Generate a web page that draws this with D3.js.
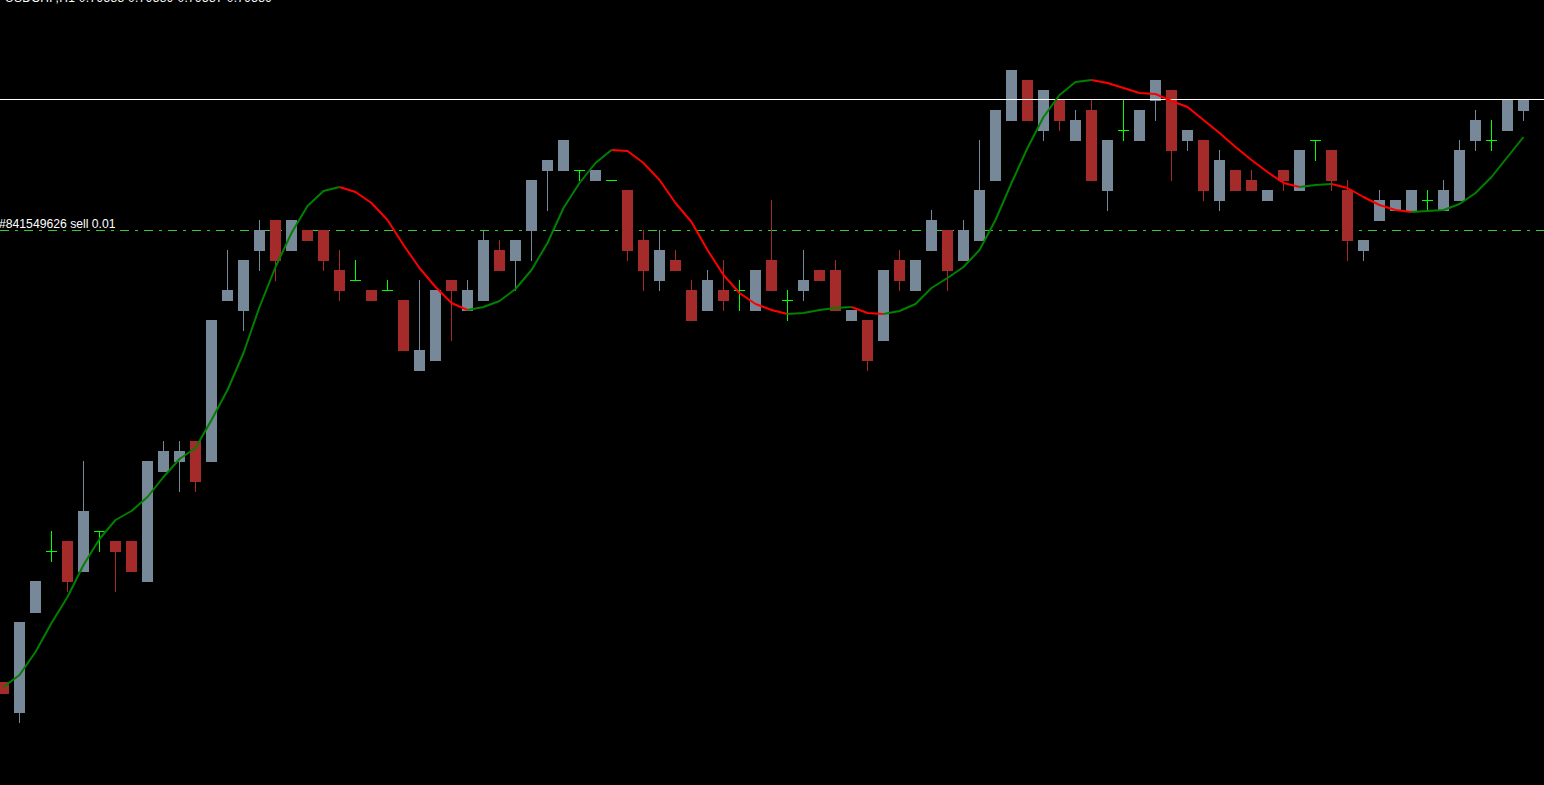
<!DOCTYPE html>
<html><head><meta charset="utf-8">
<script src="https://cdn.jsdelivr.net/npm/d3@7"></script>
<style>html,body{margin:0;padding:0;background:#000;overflow:hidden}</style>
</head><body>
<svg id="chart" width="1544" height="785"></svg>
<script>
// ---- data ----
const symbolLabel = "USDCHF,H1  0.79588 0.79589 0.79587 0.79589";
const orderLabel = "#841549626 sell 0.01";
const bidPrice = 0.79589;
const orderPrice = 0.79458;

const openP = [0.79006,0.78976,0.79076,0.79137,0.79147,0.79117,0.79157,0.79147,0.79147,0.79107,
0.79217,0.79227,0.79247,0.79227,0.79388,0.79378,0.79438,0.79468,0.79438,0.79458,
0.79458,0.79418,0.79408,0.79398,0.79398,0.79388,0.79318,0.79328,0.79408,0.79378,
0.79388,0.79438,0.79428,0.79458,0.79518,0.79518,0.79518,0.79508,0.79508,0.79498,
0.79448,0.79408,0.79428,0.79398,0.79378,0.79398,0.79398,0.79378,0.79428,0.79388,
0.79398,0.79418,0.79418,0.79368,0.79368,0.79348,0.79428,0.79398,0.79438,0.79458,
0.79428,0.79448,0.79508,0.79568,0.79608,0.79558,0.79588,0.79548,0.79578,0.79498,
0.79558,0.79548,0.79588,0.79598,0.79548,0.79548,0.79488,0.79518,0.79508,0.79488,
0.79518,0.79498,0.79548,0.79538,0.79498,0.79438,0.79468,0.79478,0.79478,0.79488,
0.79478,0.79488,0.79548,0.79548,0.79558,0.79578];

const highP = [0.79006,0.79066,0.79107,0.79157,0.79147,0.79227,0.79157,0.79147,0.79147,0.79227,
0.79247,0.79247,0.79247,0.79368,0.79438,0.79428,0.79468,0.79468,0.79468,0.79458,
0.79458,0.79438,0.79428,0.79398,0.79408,0.79388,0.79408,0.79398,0.79408,0.79408,
0.79458,0.79448,0.79448,0.79508,0.79528,0.79548,0.79518,0.79518,0.79508,0.79498,
0.79458,0.79458,0.79438,0.79408,0.79418,0.79428,0.79408,0.79418,0.79488,0.79398,
0.79438,0.79418,0.79428,0.79378,0.79368,0.79418,0.79438,0.79428,0.79478,0.79458,
0.79468,0.79548,0.79578,0.79618,0.79608,0.79598,0.79588,0.79578,0.79588,0.79548,
0.79588,0.79578,0.79608,0.79598,0.79558,0.79548,0.79538,0.79518,0.79518,0.79498,
0.79518,0.79538,0.79548,0.79538,0.79508,0.79448,0.79498,0.79488,0.79498,0.79498,
0.79508,0.79548,0.79578,0.79568,0.79588,0.79588];

const lowP = [0.78995,0.78966,0.79076,0.79127,0.79097,0.79117,0.79137,0.79097,0.79117,0.79107,
0.79217,0.79197,0.79197,0.79227,0.79388,0.79358,0.79418,0.79408,0.79438,0.79448,
0.79418,0.79388,0.79408,0.79388,0.79398,0.79338,0.79318,0.79328,0.79348,0.79378,
0.79388,0.79418,0.79398,0.79428,0.79478,0.79518,0.79508,0.79508,0.79508,0.79428,
0.79398,0.79398,0.79418,0.79368,0.79378,0.79378,0.79378,0.79378,0.79398,0.79368,
0.79388,0.79408,0.79378,0.79368,0.79318,0.79348,0.79398,0.79398,0.79438,0.79398,
0.79428,0.79448,0.79508,0.79568,0.79568,0.79548,0.79558,0.79548,0.79508,0.79478,
0.79548,0.79548,0.79568,0.79508,0.79538,0.79488,0.79478,0.79498,0.79498,0.79488,
0.79498,0.79498,0.79528,0.79498,0.79428,0.79428,0.79468,0.79478,0.79478,0.79478,
0.79478,0.79488,0.79538,0.79538,0.79558,0.79568];

const closeP = [0.78995,0.79066,0.79107,0.79137,0.79107,0.79177,0.79157,0.79137,0.79117,0.79227,
0.79237,0.79237,0.79207,0.79368,0.79398,0.79428,0.79458,0.79428,0.79468,0.79448,
0.79428,0.79398,0.79408,0.79388,0.79398,0.79338,0.79338,0.79398,0.79398,0.79398,
0.79448,0.79418,0.79448,0.79508,0.79528,0.79548,0.79518,0.79518,0.79508,0.79438,
0.79418,0.79438,0.79418,0.79368,0.79408,0.79388,0.79398,0.79418,0.79398,0.79388,
0.79408,0.79408,0.79378,0.79378,0.79328,0.79418,0.79408,0.79428,0.79468,0.79418,
0.79458,0.79498,0.79578,0.79618,0.79568,0.79598,0.79568,0.79568,0.79508,0.79548,
0.79558,0.79578,0.79608,0.79538,0.79558,0.79498,0.79528,0.79498,0.79498,0.79498,
0.79508,0.79538,0.79548,0.79508,0.79448,0.79448,0.79488,0.79488,0.79498,0.79488,
0.79498,0.79538,0.79568,0.79548,0.79588,0.79588];

const maValues = [0.79001,0.79013,0.79036,0.79065,0.79091,0.79123,0.79149,0.79168,0.79177,0.79191,
0.79211,0.79229,0.79240,0.79268,0.79298,0.79335,0.79381,0.79421,0.79455,0.79482,
0.79497,0.79501,0.79496,0.79485,0.79468,0.79443,0.79420,0.79401,0.79385,0.79378,
0.79381,0.79387,0.79399,0.79418,0.79445,0.79480,0.79505,0.79525,0.79538,0.79537,
0.79525,0.79508,0.79485,0.79466,0.79438,0.79413,0.79395,0.79384,0.79378,0.79374,
0.79375,0.79378,0.79380,0.79381,0.79375,0.79374,0.79377,0.79384,0.79400,0.79410,
0.79421,0.79438,0.79468,0.79505,0.79540,0.79571,0.79593,0.79606,0.79608,0.79605,
0.79600,0.79595,0.79594,0.79587,0.79581,0.79568,0.79555,0.79541,0.79528,0.79516,
0.79505,0.79501,0.79503,0.79504,0.79500,0.79491,0.79483,0.79478,0.79476,0.79477,
0.79478,0.79484,0.79495,0.79511,0.79531,0.79551];

// ---- drawing ----
const W = 1544, H = 785;
const svg = d3.select("#chart");
svg.append("rect").attr("width", W).attr("height", H).attr("fill", "#000");

const n = openP.length;
const x = d3.scaleLinear().domain([0, n - 1]).range([3, 1523]);
const y = d3.scaleLinear().domain([0.79589, 0.78968]).range([99, 720]);
const px = i => Math.round(x(i));
const py = v => Math.round(y(v));

// order line (dash-dot) + label
svg.append("line")
  .attr("x1", 0).attr("x2", W)
  .attr("y1", py(orderPrice) + 0.5).attr("y2", py(orderPrice) + 0.5)
  .attr("stroke", "#32cd32").attr("stroke-width", 1)
  .attr("stroke-dasharray", "9,6,3,6");
svg.append("text")
  .attr("x", -1).attr("y", py(orderPrice) - 2)
  .attr("fill", "#ffffff")
  .attr("font-family", "Liberation Sans, Arial, sans-serif")
  .attr("font-size", 12.2)
  .text(orderLabel);

// candles
const bars = d3.range(n).map(i => ({ i, o: openP[i], h: highP[i], l: lowP[i], c: closeP[i] }));
const colorOf = d => d.c === d.o ? "#00ff00" : (d.c > d.o ? "#778899" : "#a52a2a");
const g = svg.append("g").attr("shape-rendering", "crispEdges");
g.selectAll("rect.wick").data(bars).join("rect").attr("class", "wick")
  .attr("x", d => px(d.i)).attr("width", 1)
  .attr("y", d => py(d.h)).attr("height", d => py(d.l) - py(d.h) + 1)
  .attr("fill", colorOf);
g.selectAll("rect.body").data(bars).join("rect").attr("class", "body")
  .attr("x", d => px(d.i) - 5).attr("width", 11)
  .attr("y", d => Math.min(py(d.o), py(d.c)))
  .attr("height", d => Math.abs(py(d.o) - py(d.c)) + 1)
  .attr("fill", colorOf);

// bid line
svg.append("rect").attr("x", 0).attr("width", W)
  .attr("y", py(bidPrice)).attr("height", 1)
  .attr("fill", "#ffffff").attr("shape-rendering", "crispEdges");

// moving average, coloured by slope
const runs = [];
for (let i = 0; i < n - 1; i++) {
  const col = maValues[i + 1] >= maValues[i] ? "#008000" : "#ff0000";
  const last = runs[runs.length - 1];
  if (last && last.col === col) last.pts.push(i + 1);
  else runs.push({ col, pts: [i, i + 1] });
}
const line = d3.line().x(i => x(i) + 0.5).y(i => y(maValues[i]));
svg.selectAll("path.ma").data(runs).join("path").attr("class", "ma")
  .attr("d", r => line(r.pts))
  .attr("fill", "none").attr("stroke", r => r.col)
  .attr("stroke-width", 2).attr("stroke-linejoin", "round");

// top info text (clipped at the top edge, as in the reference)
svg.append("text")
  .attr("x", 5).attr("y", 2)
  .attr("fill", "#ffffff")
  .attr("font-family", "Liberation Sans, Arial, sans-serif")
  .attr("font-size", 12)
  .attr("textLength", 267).attr("lengthAdjust", "spacing")
  .text(symbolLabel);
</script>
</body></html>
